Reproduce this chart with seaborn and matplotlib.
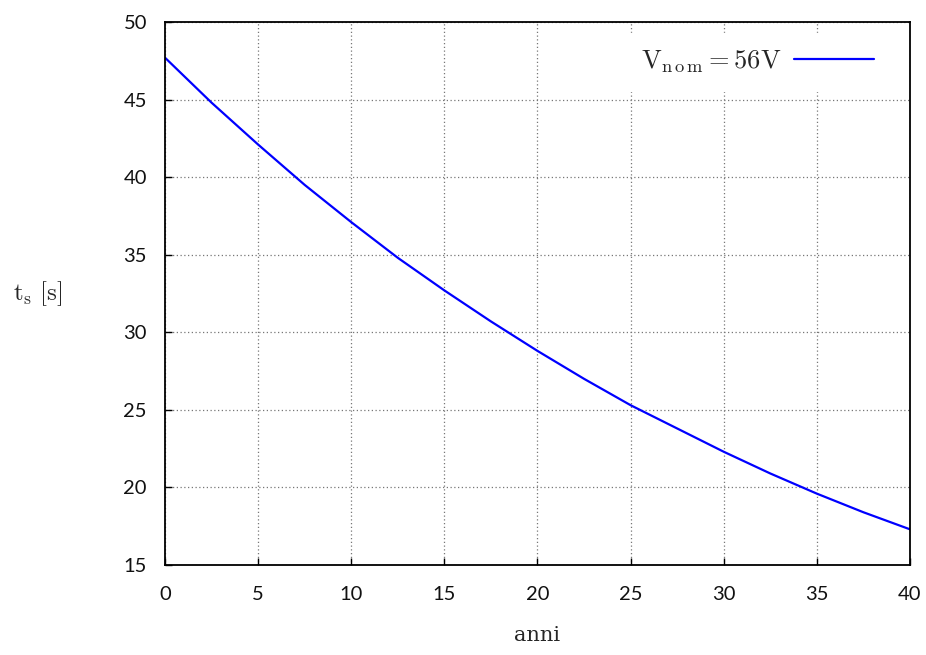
import matplotlib
matplotlib.use("Agg")
import matplotlib.pyplot as plt
import seaborn as sns
import pandas as pd

# Discharge time vs. battery age
anni = [0, 2.5, 5, 7.5, 10, 12.5, 15, 17.5, 20, 22.5, 25, 27.5, 30, 32.5, 35, 37.5, 40]
t_s = [47.7, 44.8, 42.1, 39.5, 37.1, 34.8, 32.7, 30.7, 28.8, 27.0, 25.3, 23.8,
       22.3, 20.9, 19.6, 18.4, 17.3]
x_ticks = [0, 5, 10, 15, 20, 25, 30, 35, 40]
y_ticks = [15, 20, 25, 30, 35, 40, 45, 50]
serie = r"$\mathrm{V}_{\mathrm{n\,o\,m}} = 56\mathrm{V}$"

sns.set_theme(style="white")
plt.rcParams["font.family"] = ["Lato", "DejaVu Sans"]
plt.rcParams["mathtext.fontset"] = "cm"

df = pd.DataFrame({"anni": anni, "t_s": t_s})

fig = plt.figure(figsize=(9.26, 6.55), dpi=100)
ax = fig.add_axes([0.1782, 0.1374, 0.8045, 0.829])

sns.lineplot(data=df, x="anni", y="t_s", ax=ax, color="#0000ff", lw=1.6,
             label=serie)

ax.set_xlim(0, 40)
ax.set_ylim(15, 50)
ax.set_xticks(x_ticks)
ax.set_yticks(y_ticks)
ax.tick_params(axis="both", direction="in", length=5, width=1, color="black",
               labelsize=14.5, labelcolor="#111111", bottom=True, left=True)
ax.tick_params(axis="x", pad=15)
ax.tick_params(axis="y", pad=13)
ax.grid(True, color="#777777", linestyle=(0, (1, 2)), linewidth=0.9)
for s in ax.spines.values():
    s.set_color("black")
    s.set_linewidth(1.3)

ax.set_xlabel("anni", fontsize=15, family="DejaVu Serif", labelpad=17)
ax.set_ylabel(r"$\mathrm{t}_{\mathrm{s}}\ [\mathrm{s}]$", fontsize=18,
              rotation=0, labelpad=62, va="center")

leg = ax.legend(loc="upper right", bbox_to_anchor=(0.9866, 1.0), frameon=True,
                fontsize=19, handlelength=3.0, handletextpad=0.5,
                borderaxespad=0.4, markerfirst=False, fancybox=False,
                borderpad=0.6)
leg.get_frame().set_facecolor("white")
leg.get_frame().set_edgecolor("white")
leg.get_frame().set_alpha(1.0)

fig.savefig("out.png", dpi=100)
